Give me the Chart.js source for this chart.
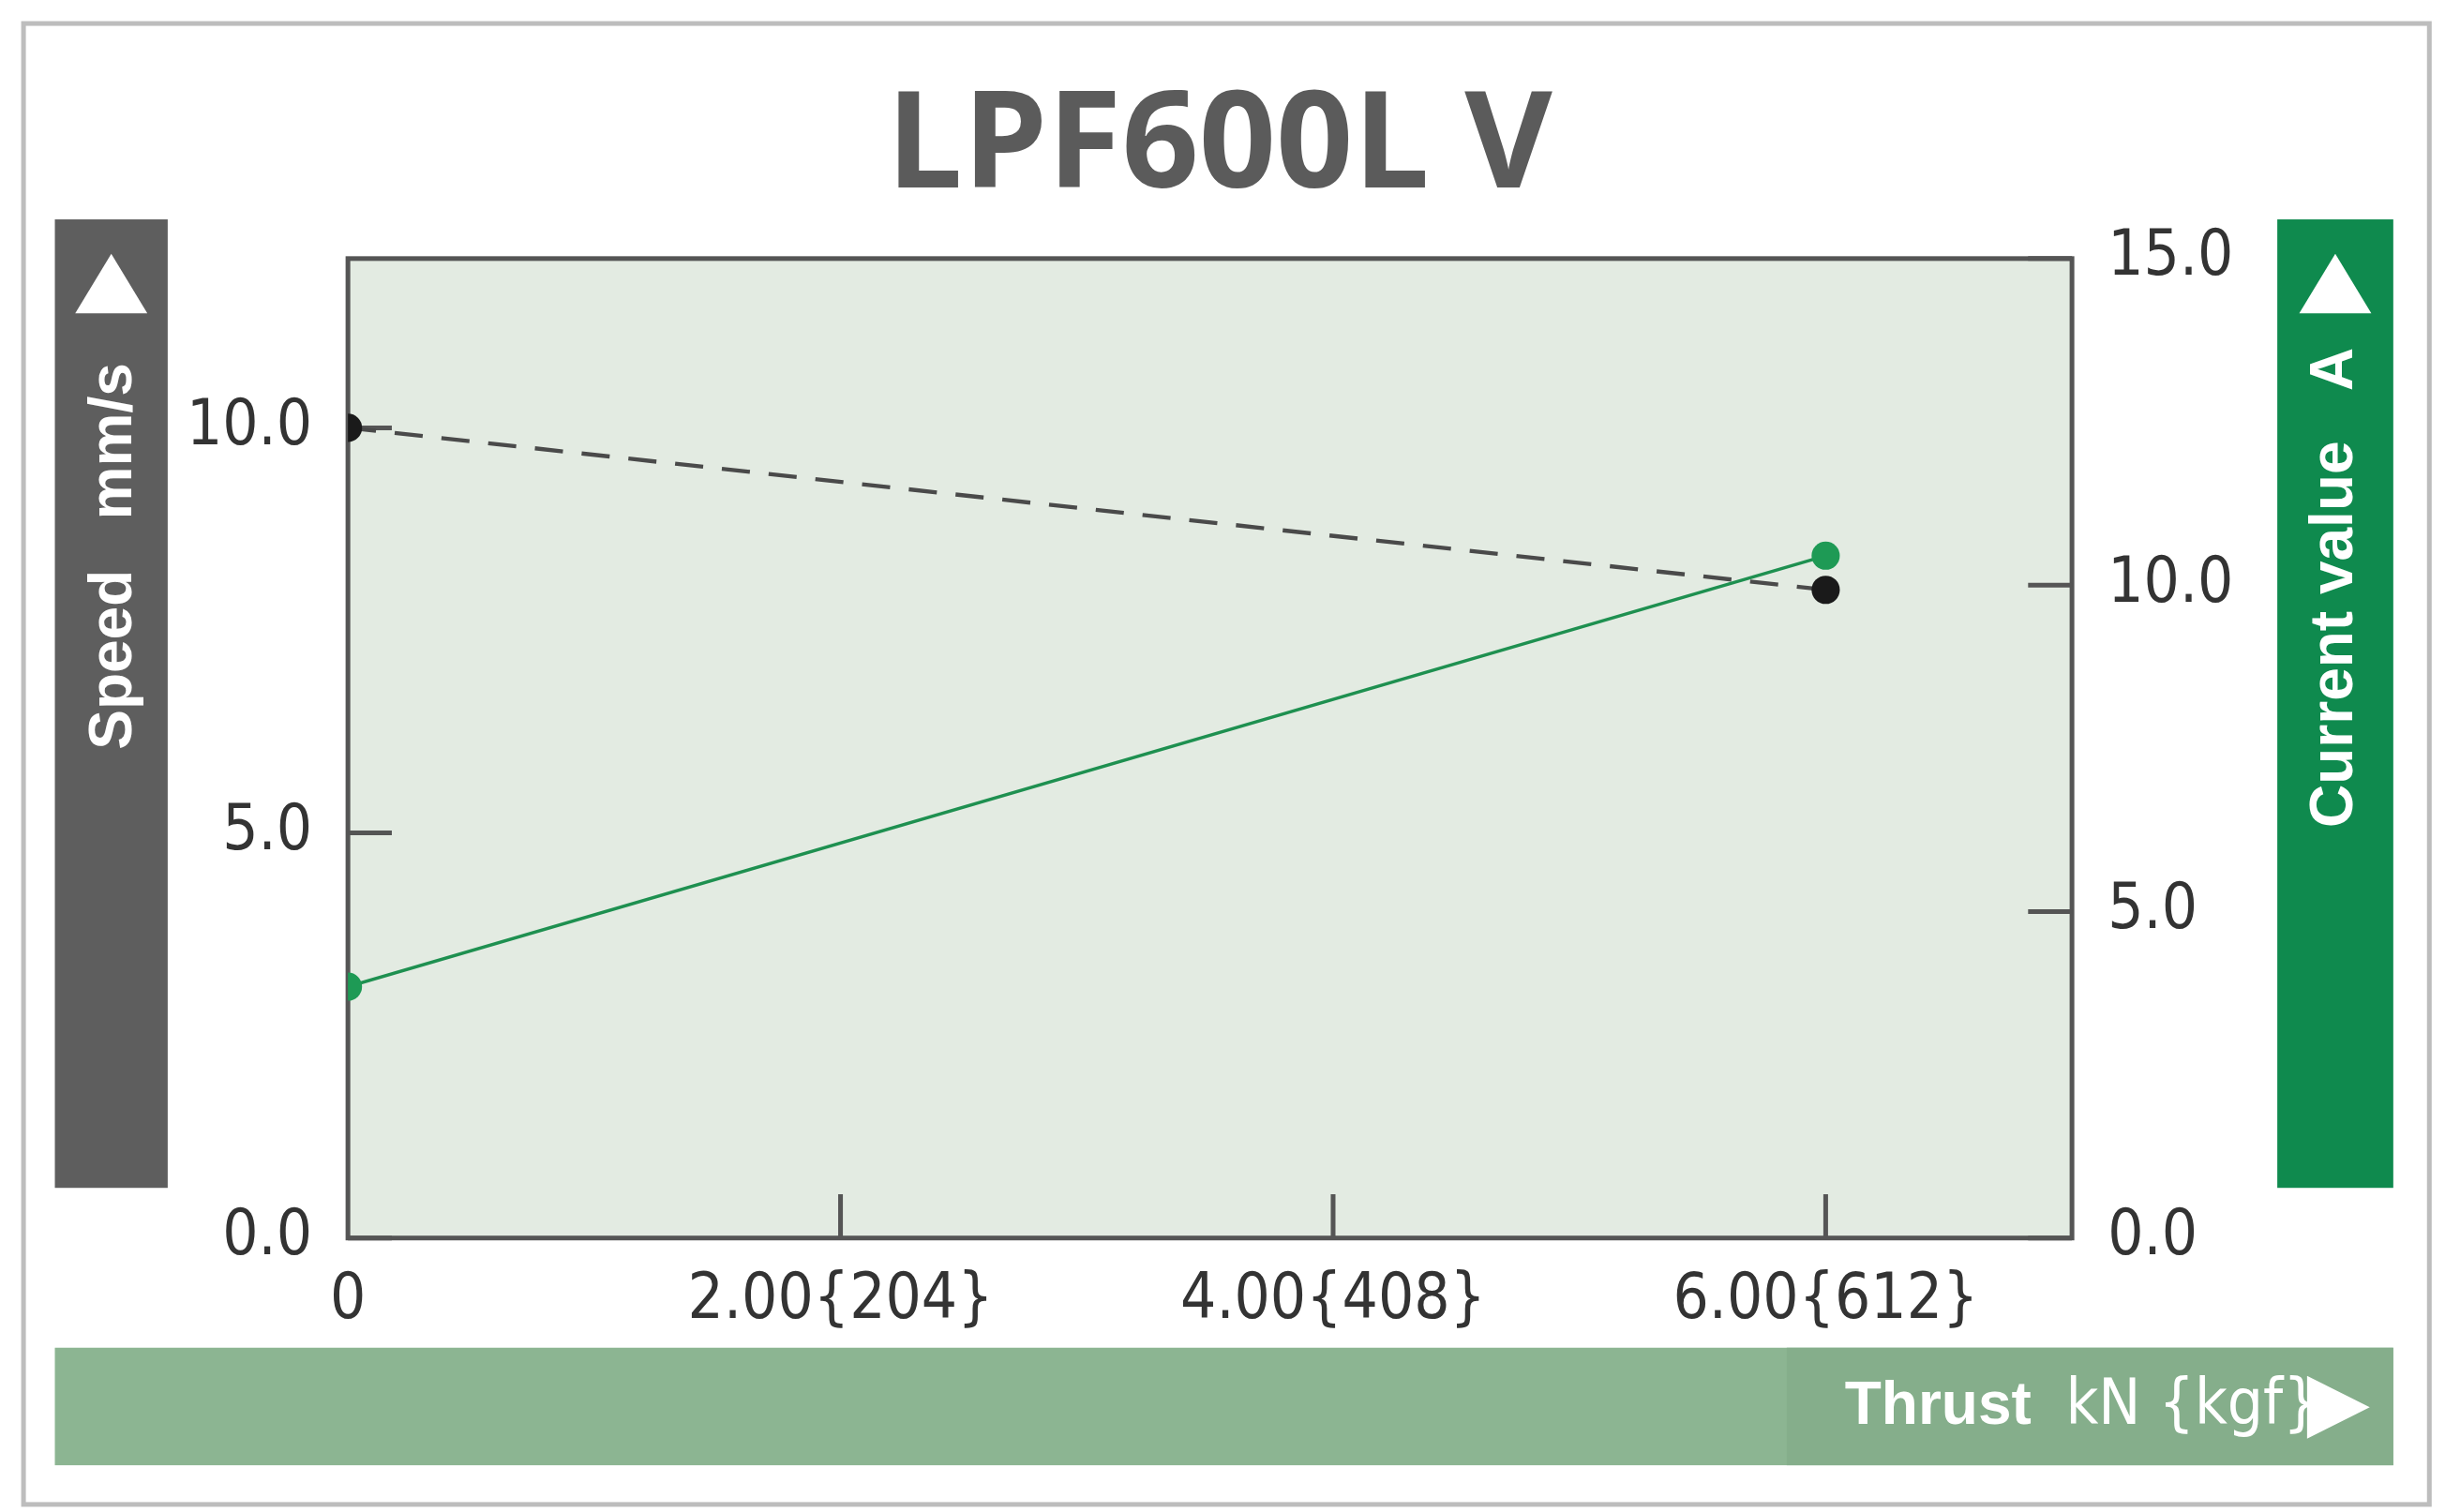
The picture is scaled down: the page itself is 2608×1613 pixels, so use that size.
<!DOCTYPE html>
<html><head><meta charset="utf-8">
<script src="https://cdn.jsdelivr.net/npm/chart.js@4/dist/chart.umd.min.js"></script>
<style>html,body{margin:0;padding:0;background:#fff}#w{width:2608px;height:1613px}</style>
</head><body><div id="w"><canvas id="c" width="2608" height="1613"></canvas></div>
<script>
const thrust = [0, 6];
const speed = [10.0, 8.0];
const current = [3.85, 10.45];
const xTickLabels = {0:"0", 2:"2.00{204}", 4:"4.00{408}", 6:"6.00{612}"};
const speedTicks = [0, 5, 10];
const currentTicks = [0, 5, 10, 15];
const title = "LPF600L V";

const S = 2608/1560;
const FONT = "'Liberation Sans Narrow','DejaVu Sans Condensed','Liberation Sans',sans-serif";
const tickFont = {family: FONT, size: Math.round(40*S)};

const deco = {
  id:'deco',
  beforeDraw(ch){
    const c = ch.ctx, a = ch.chartArea;
    c.save();
    c.fillStyle='#fff'; c.fillRect(0,0,2608,1613);
    c.strokeStyle='#bdbdbd'; c.lineWidth=3*S;
    c.strokeRect(15*S,15*S,1535*S,945*S);
    c.fillStyle='#e3ebe2'; c.fillRect(a.left,a.top,a.right-a.left,a.bottom-a.top);
    c.fillStyle='#5b5b5b'; c.font=`bold ${Math.round(86*S)}px 'Open Sans','Liberation Sans',sans-serif`;
    c.textAlign='center'; c.textBaseline='middle'; c.fillText(title,778*S,95*S);
    c.fillStyle='#5e5e5e'; c.fillRect(35*S,140*S,72*S,618*S);
    c.fillStyle='#0f8a4e'; c.fillRect(1453*S,140*S,74*S,618*S);
    c.fillStyle='#8cb592'; c.fillRect(35*S,860*S,1492*S,75*S);
    c.fillStyle='#85ae8b'; c.fillRect(1140*S,860*S,387*S,75*S);
    c.fillStyle='#fff';
    const tri=(pts)=>{c.beginPath();c.moveTo(pts[0]*S,pts[1]*S);c.lineTo(pts[2]*S,pts[3]*S);c.lineTo(pts[4]*S,pts[5]*S);c.closePath();c.fill();};
    tri([71,162,48,200,94,200]);
    tri([1490,162,1467,200,1513,200]);
    tri([1472,878,1472,918,1512,898]);
    c.font=`bold ${Math.round(38*S)}px 'Liberation Sans',sans-serif`;
    c.textBaseline='middle';
    c.save(); c.translate(73*S,355*S); c.rotate(-Math.PI/2); c.textAlign='center';
    c.fillText('Speed   mm/s',0,0); c.restore();
    c.save(); c.translate(1490*S,375*S); c.rotate(-Math.PI/2); c.textAlign='center';
    c.fillText('Current value   A',0,0); c.restore();
    c.textAlign='left';
    c.fillText('Thrust',1177*S,898*S);
    c.font=`${Math.round(40*S)}px ${FONT}`;
    c.fillText('kN {kgf}',1318*S,898*S);
    c.restore();
  },
  beforeDatasetsDraw(ch){
    const c=ch.ctx,a=ch.chartArea,sc=ch.scales;
    c.save(); c.strokeStyle='#555'; c.lineWidth=3*S;
    c.strokeRect(a.left,a.top,a.right-a.left,a.bottom-a.top);
    const L=28*S;
    c.beginPath();
    speedTicks.forEach(v=>{const y=sc.y.getPixelForValue(v);c.moveTo(a.left,y);c.lineTo(a.left+L,y);});
    currentTicks.forEach(v=>{const y=sc.y2.getPixelForValue(v);c.moveTo(a.right,y);c.lineTo(a.right-L,y);});
    Object.keys(xTickLabels).forEach(k=>{const x=sc.x.getPixelForValue(+k);if(+k>0){c.moveTo(x,a.bottom);c.lineTo(x,a.bottom-L);}});
    c.stroke(); c.restore();
  }
};

new Chart(document.getElementById('c'),{
  type:'line',
  data:{datasets:[
    {label:'Speed',data:thrust.map((x,i)=>({x,y:speed[i]})),yAxisID:'y',borderColor:'#4a4a4a',borderDash:[18*S,12*S],borderWidth:2.6*S,pointRadius:9*S,pointBackgroundColor:'#1a1a1a',pointBorderWidth:0,order:2},
    {label:'Current',data:thrust.map((x,i)=>({x,y:current[i]})),yAxisID:'y2',borderColor:'#1e9050',borderWidth:2*S,pointRadius:9*S,pointBackgroundColor:'#1e9a55',pointBorderWidth:0,order:1}
  ]},
  options:{
    responsive:false,animation:false,devicePixelRatio:1,
    layout:{padding:{top:165*S,left:0,right:0,bottom:0}},
    plugins:{legend:{display:false},tooltip:{enabled:false}},
    scales:{
      x:{type:'linear',min:0,max:7,border:{display:false},
        grid:{display:false},
        afterFit(s){s.height=1613-790*S;},
        afterBuildTicks(s){s.ticks=Object.keys(xTickLabels).map(k=>({value:+k}));},
        ticks:{font:tickFont,color:'#333',padding:12*S,maxRotation:0,callback:v=>xTickLabels[v]}},
      y:{position:'left',min:0,max:(790-165)/51.7,border:{display:false},grid:{display:false},
        afterFit(s){s.width=222*S;},
        afterBuildTicks(s){s.ticks=speedTicks.map(v=>({value:v}));},
        ticks:{font:tickFont,color:'#333',padding:18*S,callback:v=>v.toFixed(1)}},
      y2:{position:'right',min:0,max:15,border:{display:false},grid:{display:false},
        afterFit(s){s.width=2608-1322*S;},
        afterBuildTicks(s){s.ticks=currentTicks.map(v=>({value:v}));},
        ticks:{font:tickFont,color:'#333',padding:18*S,callback:v=>v.toFixed(1)}}
    }
  },
  plugins:[deco]
});
</script></body></html>
